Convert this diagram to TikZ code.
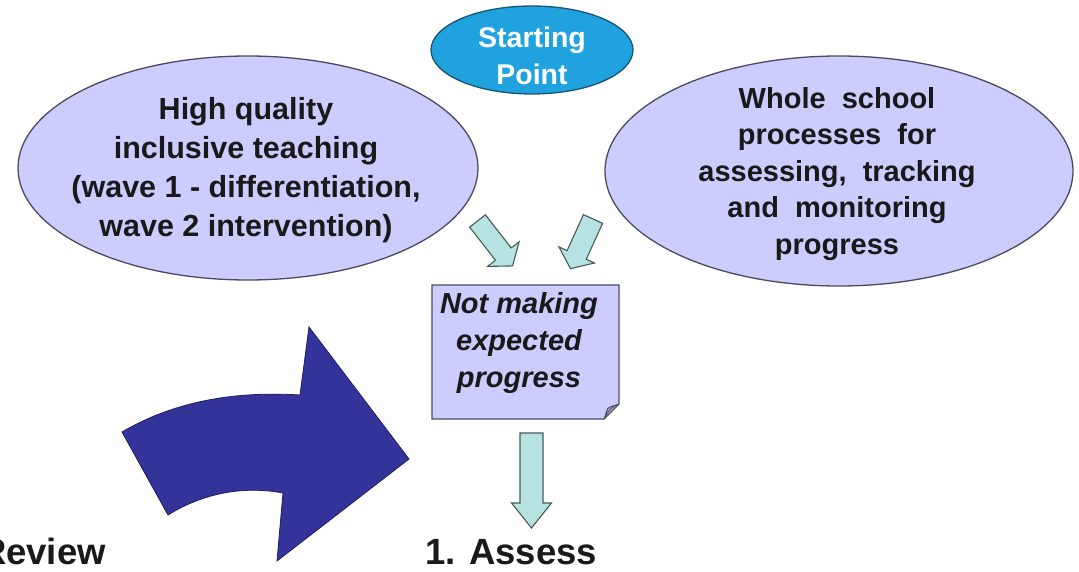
\documentclass[tikz,border=0pt]{standalone}
\usepackage{fontspec}
\setmainfont{Liberation Sans}
\usetikzlibrary{shapes.geometric}
\definecolor{lav}{RGB}{204,204,255}
\definecolor{lavdark}{RGB}{170,170,225}
\definecolor{edgegray}{RGB}{75,75,90}
\definecolor{startblue}{RGB}{32,162,222}
\definecolor{startedge}{RGB}{25,85,115}
\definecolor{lightteal}{RGB}{182,226,226}
\definecolor{tealedge}{RGB}{70,90,90}
\definecolor{navyarrow}{RGB}{51,51,153}
\definecolor{navyedge}{RGB}{30,30,100}
\tikzset{
  bubble/.style={ellipse, draw=edgegray, line width=1.3pt, fill=lav, inner sep=0pt},
  startbubble/.style={ellipse, draw=startedge, line width=1.3pt, fill=startblue, inner sep=0pt},
  bubbletext/.style={align=center, inner sep=0pt, text=black!90},
  smallarrow/.style={draw=tealedge, line width=1.1pt, fill=lightteal, line join=miter},
  bigarrow/.style={draw=navyedge, line width=0.8pt, fill=navyarrow},
  notebox/.style={draw=edgegray, line width=1.2pt, fill=lav},
  steplabel/.style={inner sep=0pt, font=\fontsize{36.5}{42}\selectfont\bfseries, text=black!90}
}
\newcommand\blockarrow[7]{%
  \begin{scope}[shift={(#1,#2)},rotate=#3]
    \draw[smallarrow] (0,{#6/2}) -- (#4,{#6/2}) -- (#4,{#7/2}) -- ({#4+#5},0)
      -- (#4,{-#7/2}) -- (#4,{-#6/2}) -- (0,{-#6/2}) -- cycle;
  \end{scope}}
\begin{document}
\begin{tikzpicture}[x=1pt,y=1pt]
\useasboundingbox (0,0) rectangle (1079,571);
\clip (0,0) rectangle (1079,571);
\fill[white] (0,0) rectangle (1079,571);

% ellipses
\node[bubble, minimum width=460pt, minimum height=224pt] (left) at (248,403) {};
\node[bubble, minimum width=468pt, minimum height=230pt] (right) at (839,400) {};
\node[startbubble, minimum width=202pt, minimum height=88pt] (start) at (532,521) {};

\node[bubbletext, font=\fontsize{28.5}{37}\selectfont\bfseries, text=white] (starttext) at (532,515)
  {Starting\\Point};
\node[bubbletext, font=\fontsize{30.5}{39}\selectfont\bfseries] (lefttext) at (246,401)
  {High quality\\inclusive teaching\\(wave 1 - differentiation,\\wave 2 intervention)};
\node[bubbletext, font=\fontsize{29}{36.5}\selectfont\bfseries] (righttext) at (837,397)
  {Whole\ \ school\\processes\ \ for\\assessing,\ \ tracking\\and\ \ monitoring\\progress};

% small teal arrows
\blockarrow{477.5}{350}{-52}{42}{15}{20}{40}
\blockarrow{593}{352}{-114.4}{39.5}{15}{21}{39}

% note box
\draw[notebox] (432,286) -- (619,286) -- (619,167) -- (604,152) -- (432,152) -- cycle;
\draw[draw=edgegray, line width=0.9pt, fill=lavdark] (604,152) .. controls (607,158) and (606,163) .. (610,164) -- (619,167) .. controls (612,165) and (608,160) .. (604,152) -- cycle;
\node[bubbletext, font=\fontsize{29}{36.7}\selectfont\bfseries\itshape] (note) at (519,228)
  {Not making\\expected\\progress};

% down arrow
\blockarrow{531.5}{138}{-90}{70}{25}{23}{40}

% big curved arrow
\coordinate (ta) at (122,139);
\coordinate (hb) at (300,176);
\coordinate (ht) at (309,244);
\coordinate (tip) at (409,112);
\coordinate (hbot) at (277,10);
\coordinate (hi) at (283,78);
\coordinate (tb) at (168,56);
\draw[bigarrow] (ta) .. controls (175,170) and (235,180) .. (hb) -- (ht) -- (tip) -- (hbot) -- (hi)
  .. controls (240,86) and (200,76) .. (tb) -- cycle;

% labels
\node[steplabel, anchor=base west] (assess) at (425,7) {1. Assess};
\node[steplabel, anchor=base east] (review) at (106,7) {Review};
\end{tikzpicture}
\end{document}
